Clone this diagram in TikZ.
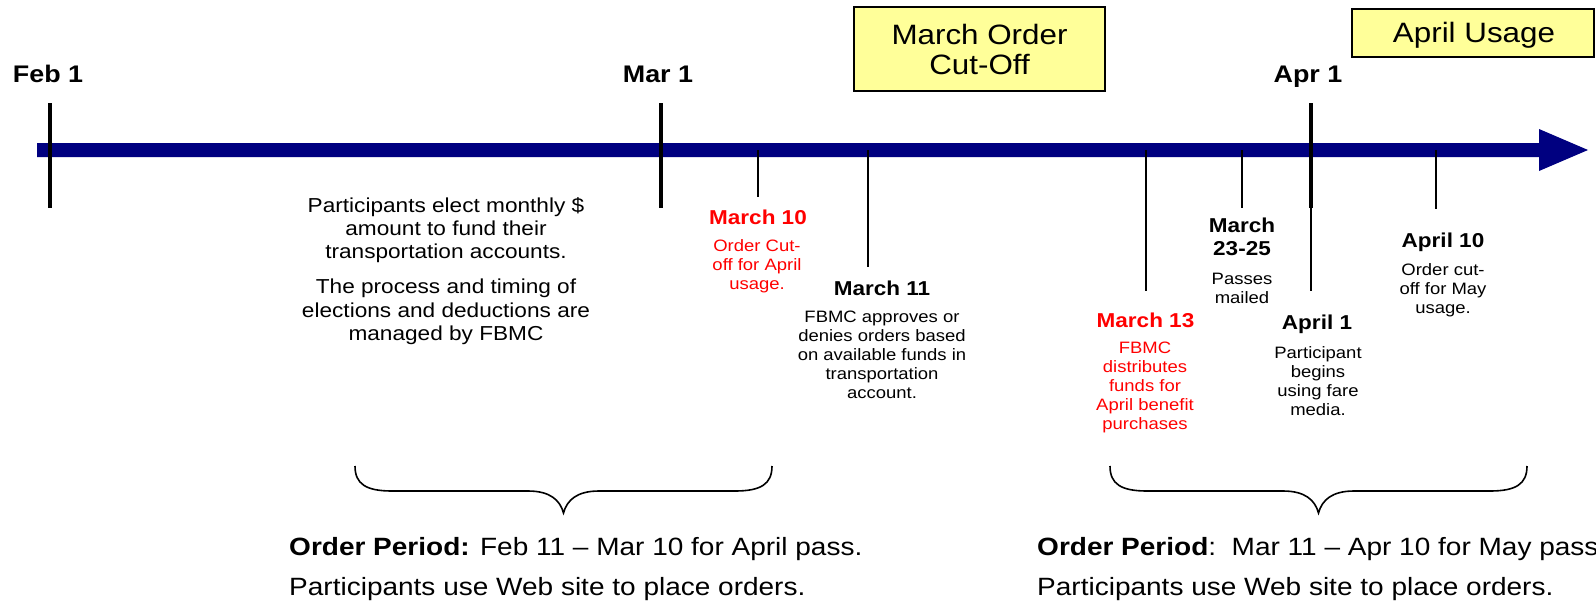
\documentclass[tikz,border=0pt]{standalone}
\usepackage{fontspec}
\setmainfont{Liberation Sans}
\definecolor{tlnavy}{RGB}{0,0,128}
\definecolor{tlred}{RGB}{255,0,0}
\definecolor{boxyellow}{RGB}{255,255,153}
\tikzset{
  lbl/.style={inner sep=0pt, align=center, xscale=1.12},
  datelbl/.style={lbl, font=\fontsize{20.1}{23.3}\selectfont\bfseries},
  smalllbl/.style={lbl, font=\fontsize{16.5}{18.9}\selectfont},
  monthlbl/.style={lbl, anchor=base, font=\fontsize{24}{27}\selectfont\bfseries},
  boxtxt/.style={lbl, font=\fontsize{28}{30}\selectfont},
  midtxt/.style={lbl, font=\fontsize{20.2}{23.3}\selectfont},
  bottxt/.style={inner sep=0pt, anchor=west, xscale=1.12, font=\fontsize{25}{28}\selectfont},
  yelbox/.style={draw=black, line width=1.6pt, fill=boxyellow, inner sep=0pt},
  thick tick/.style={line width=4.5pt, black},
  thin tick/.style={line width=2.4pt, black},
  bracestyle/.style={line width=1.6pt, black},
}
\begin{document}
\begin{tikzpicture}[x=1pt,y=-1pt]
\useasboundingbox (0,0) rectangle (1596,603);
\fill[white] (0,0) rectangle (1596,603);

% yellow boxes
\node[yelbox, minimum width=251pt, minimum height=84pt] (mocbox) at (979.5,49) {};
\node[boxtxt] (moctxt) at (979.5,49) {March Order\\Cut-Off};
\node[yelbox, minimum width=242pt, minimum height=48pt] (aubox) at (1473,33) {};
\node[boxtxt] (autxt) at (1474,35.5) {April Usage};

% timeline arrow
\fill[tlnavy] (37,143) -- (1539,143) -- (1539,129) -- (1588,150) -- (1539,171) -- (1539,157) -- (37,157) -- cycle;

% month ticks
\coordinate (feb1t) at (50,103);  \coordinate (feb1b) at (50,208);
\coordinate (mar1t) at (661,103); \coordinate (mar1b) at (661,208);
\coordinate (apr1t) at (1311,103); \coordinate (apr1b) at (1311,208);
\coordinate (apr1e) at (1311,291);
\draw[thick tick] (feb1t) -- (feb1b);
\draw[thick tick] (mar1t) -- (mar1b);
\draw[thick tick] (apr1t) -- (apr1b);
\draw[thin tick] (apr1b) -- (apr1e);

% event ticks
\coordinate (m10a) at (758,150);  \coordinate (m10b) at (758,197);
\coordinate (m11a) at (868,150);  \coordinate (m11b) at (868,267);
\coordinate (m13a) at (1146,150); \coordinate (m13b) at (1146,291);
\coordinate (m23a) at (1242,150); \coordinate (m23b) at (1242,208);
\coordinate (a10a) at (1436,150); \coordinate (a10b) at (1436,209);
\draw[thin tick] (m10a) -- (m10b);
\draw[thin tick] (m11a) -- (m11b);
\draw[thin tick] (m13a) -- (m13b);
\draw[thin tick] (m23a) -- (m23b);
\draw[thin tick] (a10a) -- (a10b);

% month labels
\node[monthlbl] (feb1) at (48,82) {Feb 1};
\node[monthlbl] (mar1) at (658,82) {Mar 1};
\node[monthlbl] (apr1) at (1308,82) {Apr 1};

% left text
\node[midtxt] (elect) at (446,271) {Participants elect monthly \$\\amount to fund their\\transportation accounts.\\[11.7pt]The process and timing of\\elections and deductions are\\managed by FBMC};

% events
\node[datelbl, text=tlred] (d10) at (758,217.5) {March 10};
\node[smalllbl, text=tlred] (t10) at (757,266) {Order Cut-\\off for April\\usage.};

\node[datelbl] (d11) at (882,288) {March 11};
\node[smalllbl] (t11) at (882,355) {FBMC approves or\\denies orders based\\on available funds in\\transportation\\account.};

\node[datelbl, text=tlred] (d13) at (1145.5,320) {March 13};
\node[smalllbl, text=tlred] (t13) at (1145,387.5) {FBMC\\distributes\\funds for\\April benefit\\purchases};

\node[datelbl] (d23) at (1242,236.7) {March\\23-25};
\node[smalllbl] (t23) at (1242,288.5) {Passes\\mailed};

\node[datelbl, anchor=base] (da1) at (1317,329.5) {April 1};
\node[smalllbl] (ta1) at (1318,381) {Participant\\begins\\using fare\\media.};

\node[datelbl, anchor=base] (da10) at (1443,247.5) {April 10};
\node[smalllbl] (ta10) at (1443,290.3) {Order cut-\\off for May\\usage.};

% braces
\draw[bracestyle] (355,466) .. controls (355,484) and (366,491) .. (392,491) -- (528,491)
  .. controls (550,491) and (560,500) .. (563.5,513)
  .. controls (567,500) and (577,491) .. (599,491) -- (735,491)
  .. controls (761,491) and (772,484) .. (772,466);
\draw[bracestyle] (1110,466) .. controls (1110,484) and (1121,491) .. (1147,491) -- (1283,491)
  .. controls (1305,491) and (1315,500) .. (1318.5,513)
  .. controls (1322,500) and (1332,491) .. (1354,491) -- (1490,491)
  .. controls (1516,491) and (1527,484) .. (1527,466);

% bottom texts
\node[bottxt] (op1) at (289,549) {\textbf{Order Period:} Feb 11 -- Mar 10 for April pass.};
\node[bottxt] (pu1) at (289,589) {Participants use Web site to place orders.};
\node[bottxt] (op2) at (1037,549) {\textbf{Order Period}:\ \ Mar 11 -- Apr 10 for May pass};
\node[bottxt] (pu2) at (1037,589) {Participants use Web site to place orders.};
\end{tikzpicture}
\end{document}
